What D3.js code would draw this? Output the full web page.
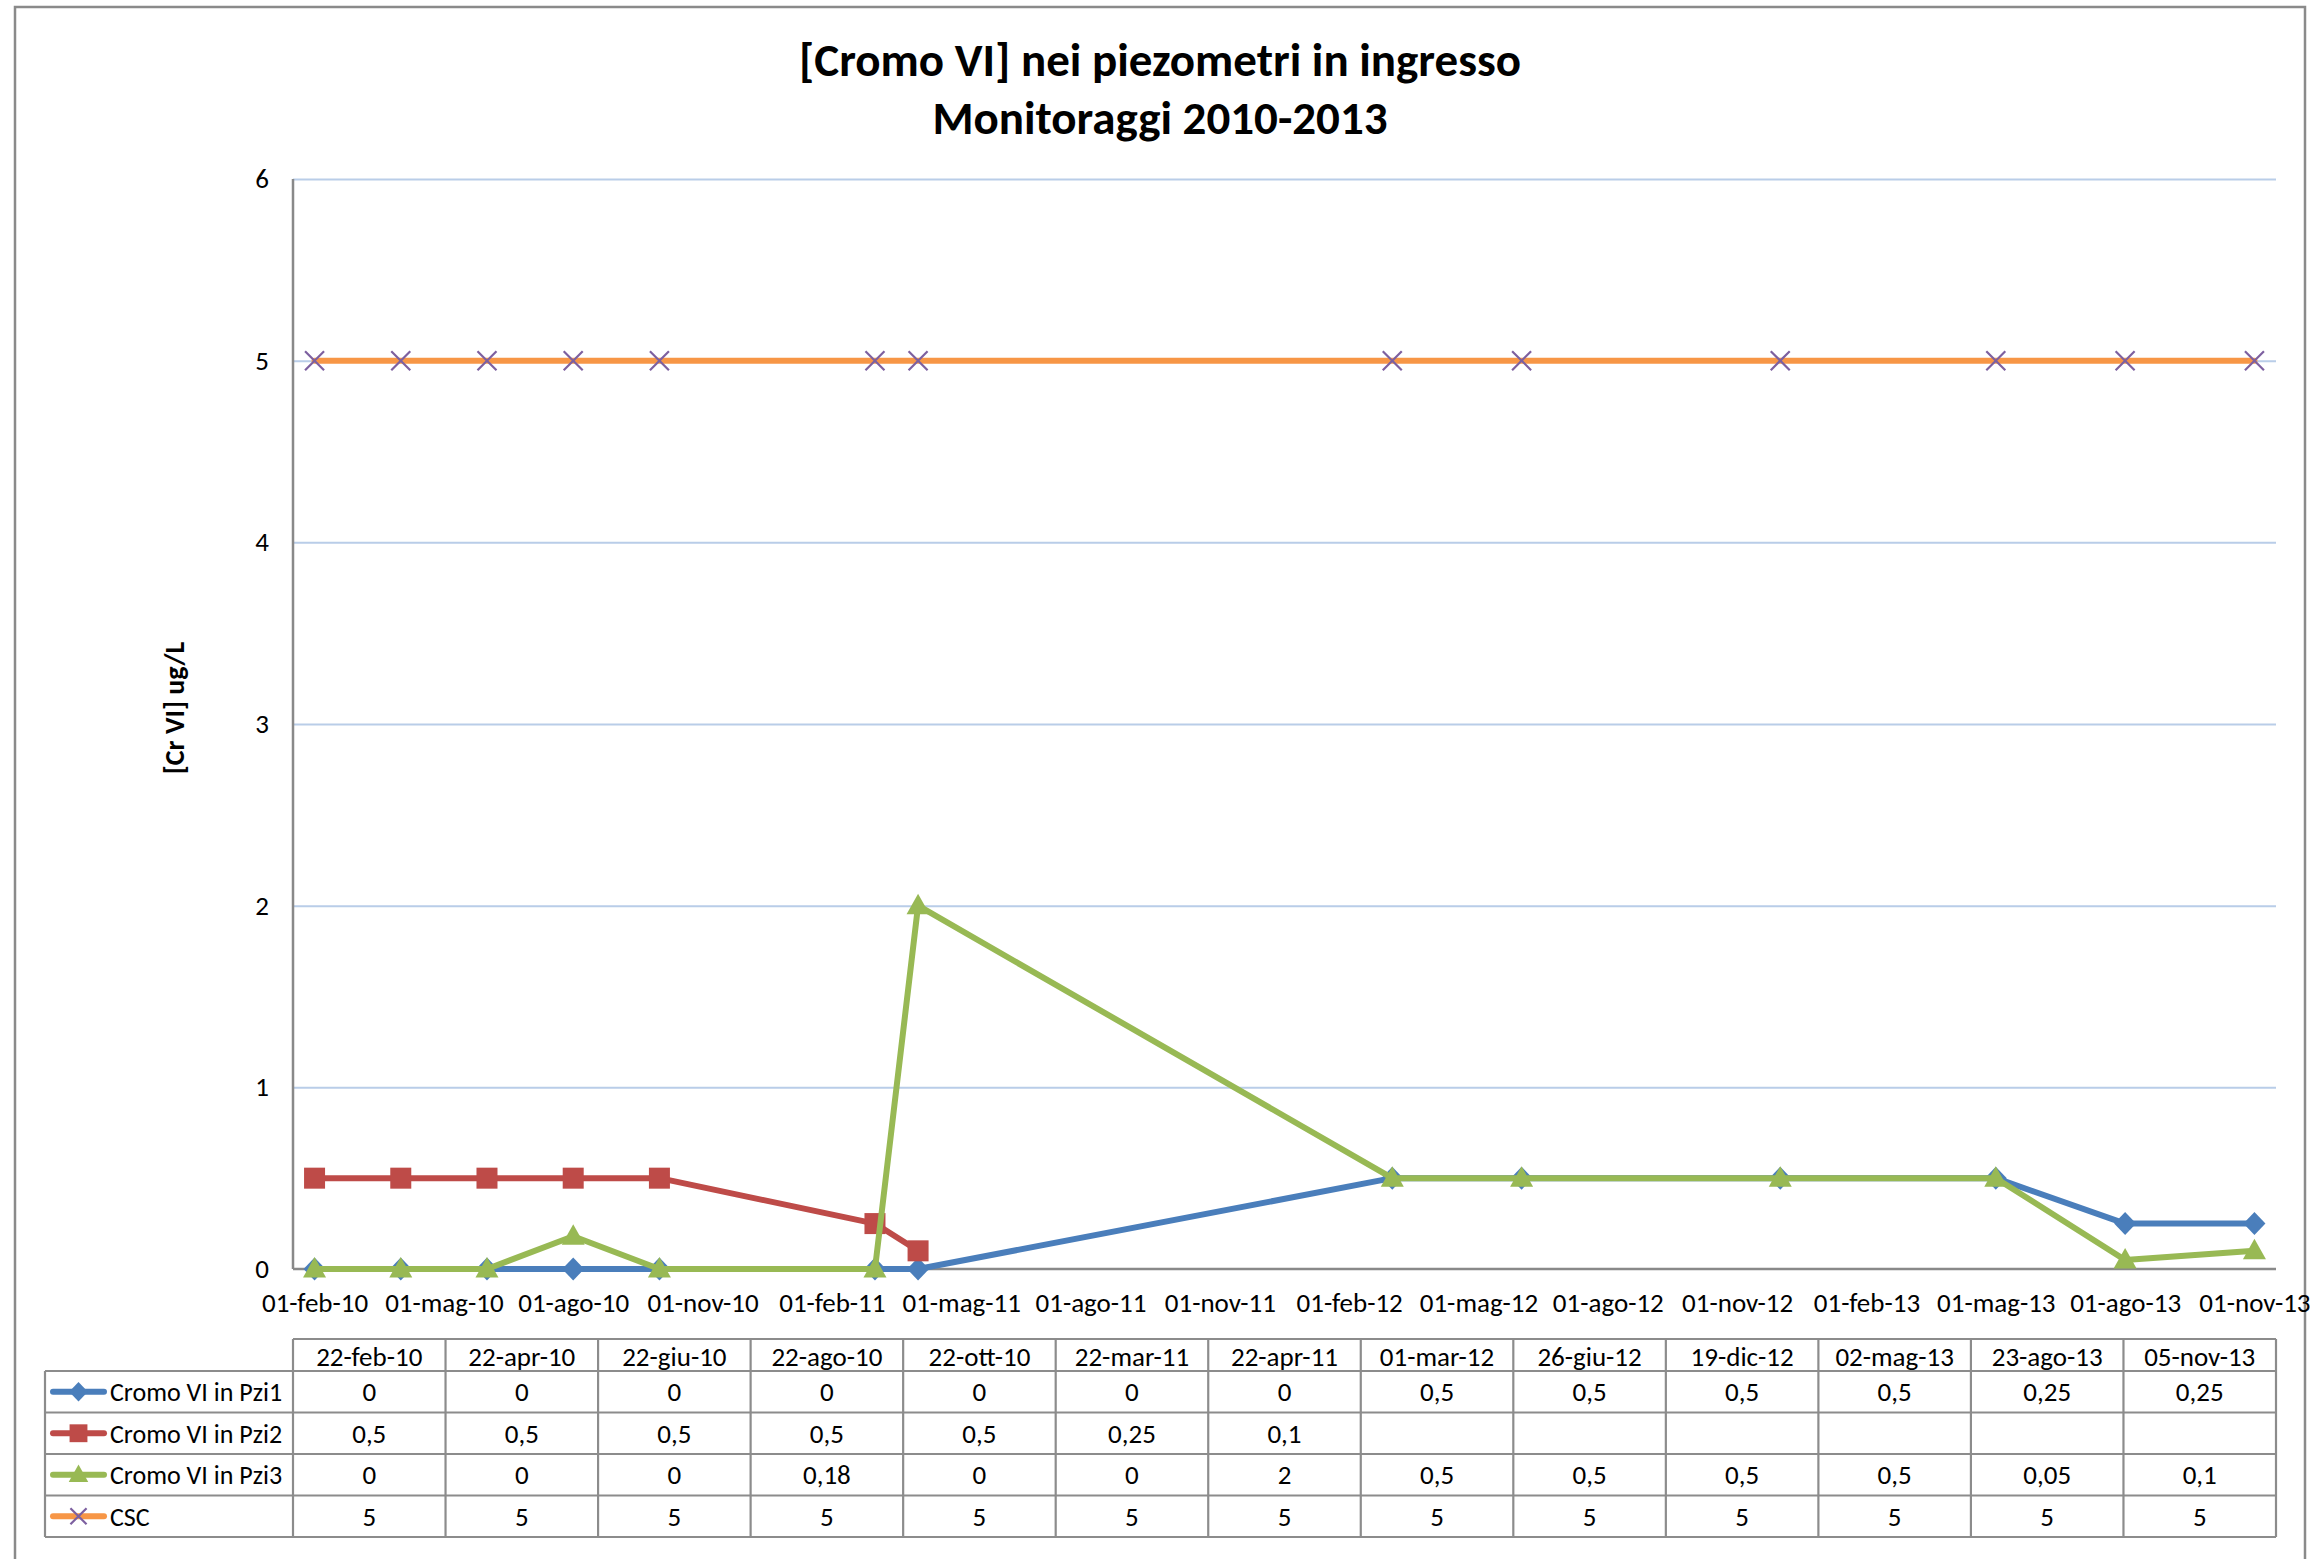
<!DOCTYPE html>
<html>
<head>
<meta charset="utf-8">
<script src="https://cdnjs.cloudflare.com/ajax/libs/d3/7.8.5/d3.min.js"></script>
<style>
  html, body { margin: 0; padding: 0; background: #fff; }
  svg { display: block; font-family: Carlito, Calibri, Lato, "Noto Sans", sans-serif; }
</style>
</head>
<body>
<svg id="chart" width="2313" height="1559"></svg>
<script>
// Sampling dates (Italian short format) and measured Cr VI concentrations
const sampleDates = ["22-feb-10", "22-apr-10", "22-giu-10", "22-ago-10", "22-ott-10", "22-mar-11", "22-apr-11",
                     "01-mar-12", "26-giu-12", "19-dic-12", "02-mag-13", "23-ago-13", "05-nov-13"];
const pzi1 = [0, 0, 0, 0, 0, 0, 0, 0.5, 0.5, 0.5, 0.5, 0.25, 0.25];
const pzi2 = [0.5, 0.5, 0.5, 0.5, 0.5, 0.25, 0.1, null, null, null, null, null, null];
const pzi3 = [0, 0, 0, 0.18, 0, 0, 2, 0.5, 0.5, 0.5, 0.5, 0.05, 0.1];
const csc  = [5, 5, 5, 5, 5, 5, 5, 5, 5, 5, 5, 5, 5];

const seriesNames = ["Cromo VI in Pzi1", "Cromo VI in Pzi2", "Cromo VI in Pzi3", "CSC"];
const xTickLabels = ["01-feb-10", "01-mag-10", "01-ago-10", "01-nov-10", "01-feb-11", "01-mag-11", "01-ago-11",
                     "01-nov-11", "01-feb-12", "01-mag-12", "01-ago-12", "01-nov-12", "01-feb-13", "01-mag-13",
                     "01-ago-13", "01-nov-13"];
const yTicks = [0, 1, 2, 3, 4, 5, 6];

const titleLines = ["[Cromo VI] nei piezometri in ingresso", "Monitoraggi 2010-2013"];
const yAxisTitle = "[Cr VI] ug/L";

// Italian locale for parsing the dates
const itLocale = d3.timeFormatLocale({
  dateTime: "%A %e %B %Y, %X", date: "%d/%m/%Y", time: "%H:%M:%S",
  periods: ["AM", "PM"],
  days: ["domenica", "lunedì", "martedì", "mercoledì", "giovedì", "venerdì", "sabato"],
  shortDays: ["dom", "lun", "mar", "mer", "gio", "ven", "sab"],
  months: ["gennaio", "febbraio", "marzo", "aprile", "maggio", "giugno", "luglio", "agosto", "settembre", "ottobre", "novembre", "dicembre"],
  shortMonths: ["gen", "feb", "mar", "apr", "mag", "giu", "lug", "ago", "set", "ott", "nov", "dic"]
});
const parseIt = itLocale.utcParse("%d-%b-%y");
// date axis with a monthly base unit: every date sits at its month slot
const monthIndex = s => { const d = parseIt(s); return d.getUTCFullYear() * 12 + d.getUTCMonth(); };

const svg = d3.select("#chart");
const plot = { left: 293, right: 2276, top: 179, bottom: 1269 };
const FS = 27;

const colors = {
  pzi1: "#4A7EBB", pzi2: "#BE4B48", pzi3: "#98B954", csc: "#F79646", cscMarker: "#7D60A0",
  grid: "#B9CDE8", axis: "#898989", table: "#8C8C8C", text: "#000"
};

// chart frame
svg.append("rect").attr("x", 15).attr("y", 7).attr("width", 2290).attr("height", 1560)
  .attr("fill", "#fff").attr("stroke", "#8A8A8A").attr("stroke-width", 2.5);

// title
svg.append("g").selectAll("text").data(titleLines).join("text")
  .attr("x", 1160).attr("y", (d, i) => 76 + i * 58)
  .attr("text-anchor", "middle").attr("font-weight", "bold").attr("font-size", 47)
  .attr("fill", colors.text).text(d => d);

const months = sampleDates.map(monthIndex);
const tickMonths = xTickLabels.map(monthIndex);
const x = d3.scaleLinear()
  .domain([d3.min(tickMonths.concat(months)) - 0.5, d3.max(tickMonths.concat(months)) + 0.5])
  .range([plot.left, plot.right]);
const y = d3.scaleLinear().domain([0, 6]).range([plot.bottom, plot.top]);

// horizontal gridlines + y labels
const yAxis = d3.axisLeft(y).tickValues(yTicks).tickSize(-(plot.right - plot.left)).tickPadding(24)
  .tickFormat(d3.format("d"));
const gy = svg.append("g").attr("transform", `translate(${plot.left},0)`).call(yAxis);
gy.select(".domain").remove();
gy.selectAll(".tick line").attr("stroke", colors.grid).attr("stroke-width", 2)
  .filter(d => d === 0).remove();
gy.selectAll(".tick text").attr("font-size", FS).attr("fill", colors.text)
  .attr("font-family", "Carlito, Calibri, Lato, sans-serif");

// axis lines
svg.append("line").attr("x1", plot.left).attr("x2", plot.left).attr("y1", plot.top).attr("y2", plot.bottom)
  .attr("stroke", colors.axis).attr("stroke-width", 2.5);
svg.append("line").attr("x1", plot.left).attr("x2", plot.right).attr("y1", plot.bottom).attr("y2", plot.bottom)
  .attr("stroke", colors.axis).attr("stroke-width", 2.5);

// x tick labels
const xAxis = d3.axisBottom(x).tickValues(tickMonths).tickSize(0).tickPadding(24)
  .tickFormat((d, i) => xTickLabels[i]);
const gx = svg.append("g").attr("transform", `translate(0,${plot.bottom})`).call(xAxis);
gx.select(".domain").remove();
gx.selectAll(".tick text").attr("font-size", FS).attr("fill", colors.text)
  .attr("font-family", "Carlito, Calibri, Lato, sans-serif");

// y axis title
svg.append("text").attr("transform", "translate(184,708) rotate(-90)")
  .attr("text-anchor", "middle").attr("font-weight", "bold").attr("font-size", 28)
  .attr("fill", colors.text).text(yAxisTitle);

// marker shapes
function drawMarker(g, type, cx, cy, color, s) {
  const k = s / 20;
  if (type === "diamond") {
    g.append("path").attr("d", `M${cx},${cy - 11.5 * k}L${cx + 11 * k},${cy}L${cx},${cy + 11.5 * k}L${cx - 11 * k},${cy}Z`)
      .attr("fill", color);
  } else if (type === "square") {
    g.append("rect").attr("x", cx - 10.5 * k).attr("y", cy - 10.5 * k).attr("width", 21 * k).attr("height", 21 * k)
      .attr("fill", color);
  } else if (type === "triangle") {
    g.append("path").attr("d", `M${cx},${cy - 12 * k}L${cx + 11.5 * k},${cy + 8.5 * k}L${cx - 11.5 * k},${cy + 8.5 * k}Z`)
      .attr("fill", color);
  } else if (type === "x") {
    const r = 9.5 * k;
    g.append("path").attr("d", `M${cx - r},${cy - r}L${cx + r},${cy + r}M${cx - r},${cy + r}L${cx + r},${cy - r}`)
      .attr("stroke", color).attr("stroke-width", 2.2).attr("fill", "none");
  }
}

const series = [
  { name: seriesNames[0], values: pzi1, color: colors.pzi1, marker: "diamond", mcolor: colors.pzi1 },
  { name: seriesNames[1], values: pzi2, color: colors.pzi2, marker: "square", mcolor: colors.pzi2 },
  { name: seriesNames[2], values: pzi3, color: colors.pzi3, marker: "triangle", mcolor: colors.pzi3 },
  { name: seriesNames[3], values: csc, color: colors.csc, marker: "x", mcolor: colors.cscMarker }
];

const line = d3.line()
  .defined(d => d.v !== null)
  .x(d => x(d.m)).y(d => y(d.v));

const plotG = svg.append("g");
series.forEach(s => {
  const pts = s.values.map((v, i) => ({ m: months[i], v }));
  const g = plotG.append("g");
  g.append("path").datum(pts).attr("d", line)
    .attr("fill", "none").attr("stroke", s.color).attr("stroke-width", 6)
    .attr("stroke-linejoin", "round").attr("stroke-linecap", "round");
  pts.filter(p => p.v !== null).forEach(p => drawMarker(g, s.marker, x(p.m), y(p.v), s.mcolor, 20));
});

// data table
const table = { left: plot.left, right: plot.right, headTop: 1339, headBottom: 1371, rowH: 41.5, keyLeft: 45 };
const colW = (table.right - table.left) / sampleDates.length;
const tg = svg.append("g");
const rowsBottom = table.headBottom + table.rowH * series.length;
function tline(x1, y1, x2, y2) {
  tg.append("line").attr("x1", x1).attr("y1", y1).attr("x2", x2).attr("y2", y2)
    .attr("stroke", colors.table).attr("stroke-width", 2.2);
}
// horizontal rules
tline(table.left, table.headTop, table.right, table.headTop);
for (let r = 0; r <= series.length; r++) {
  const yy = table.headBottom + r * table.rowH;
  tline(table.keyLeft, yy, table.right, yy);
}
// vertical rules
tline(table.keyLeft, table.headBottom, table.keyLeft, rowsBottom);
for (let c = 0; c <= sampleDates.length; c++) {
  const xx = table.left + c * colW;
  tline(xx, table.headTop, xx, rowsBottom);
}
const fmtIt = v => v === null ? "" : String(v).replace(".", ",");
// header dates
tg.selectAll("text.head").data(sampleDates).join("text").attr("class", "head")
  .attr("x", (d, i) => table.left + (i + 0.5) * colW).attr("y", (table.headTop + table.headBottom) / 2 + 1)
  .attr("dy", "0.36em").attr("text-anchor", "middle").attr("font-size", FS).text(d => d);
// value rows with legend keys
series.forEach((s, r) => {
  const cy = table.headBottom + (r + 0.5) * table.rowH;
  tg.append("line").attr("x1", 53).attr("x2", 104).attr("y1", cy).attr("y2", cy)
    .attr("stroke", s.color).attr("stroke-width", 6).attr("stroke-linecap", "round");
  drawMarker(tg, s.marker, 78.5, cy, s.mcolor, 17);
  tg.append("text").attr("x", 110).attr("y", cy).attr("dy", "0.36em").attr("font-size", 26).text(s.name);
  tg.selectAll(null).data(s.values).join("text")
    .attr("x", (d, i) => table.left + (i + 0.5) * colW).attr("y", cy).attr("dy", "0.36em")
    .attr("text-anchor", "middle").attr("font-size", FS).text(d => fmtIt(d));
});
</script>
</body>
</html>
